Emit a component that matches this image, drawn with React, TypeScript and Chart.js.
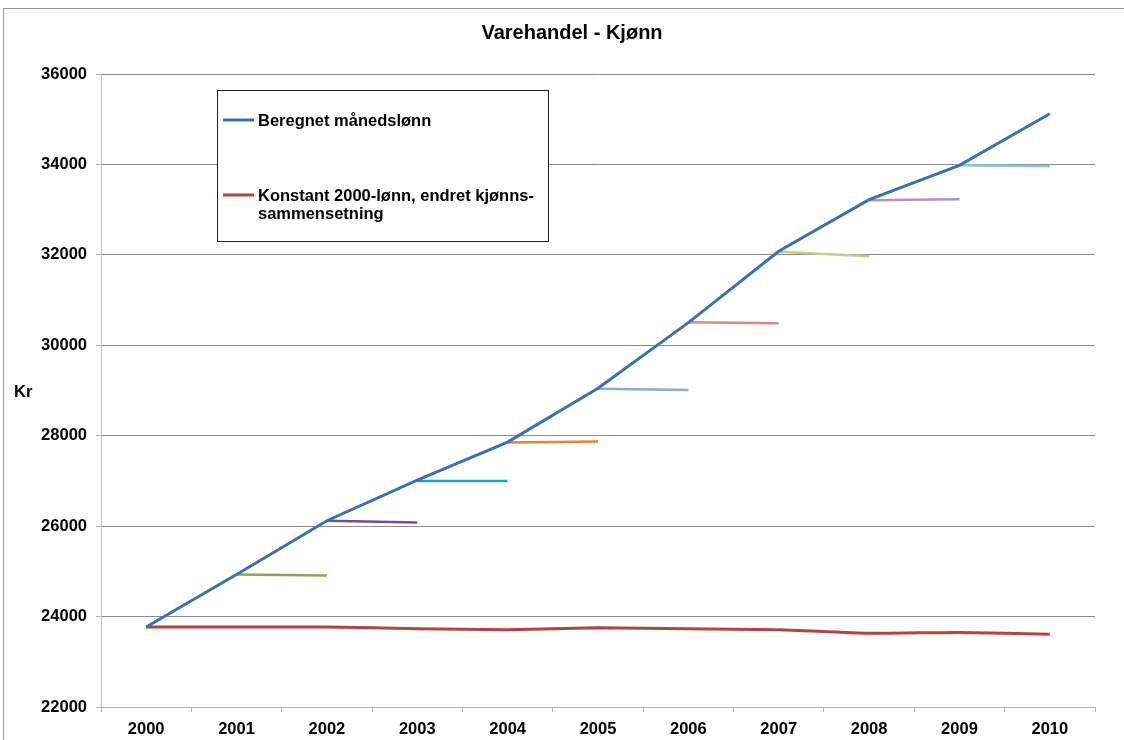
import React, { useEffect, useRef } from "react";
import { Chart, registerables } from "chart.js";

Chart.register(...registerables);

const years = ["2000", "2001", "2002", "2003", "2004", "2005", "2006", "2007", "2008", "2009", "2010"];
const beregnet = [23770, 24930, 26120, 27020, 27860, 29050, 30500, 32080, 33220, 33980, 35120];
const konstant = [23770, 23770, 23770, 23730, 23710, 23750, 23730, 23710, 23630, 23650, 23610];
// yearly segments: start at year i (index), end at year i+1
const segStartIndex = [1, 2, 3, 4, 5, 6, 7, 8, 9];
const segStart = [24930, 26120, 27000, 27850, 29040, 30510, 32070, 33210, 33980];
const segEnd = [24910, 26080, 27000, 27870, 29010, 30490, 31970, 33230, 33960];
const segColors = ["#8aa64b", "#6c5290", "#3d97ae", "#e0843b", "#8eaad3", "#d38d8c", "#b9d08f", "#a996c1", "#8cc6d9"];

const seriesNames = ["Beregnet månedslønn", "Konstant 2000-lønn, endret kjønns-"];
const seriesNames2 = ["", "sammensetning"];
const seriesColors = ["#3f6fad", "#b04545"];
const titleText = "Varehandel - Kjønn";
const yTitle = "Kr";
const yMin = 22000;
const yMax = 36000;
const yStep = 2000;

const FONT = '"Liberation Sans", Arial, Helvetica, sans-serif';

const decorPlugin = {
  id: "decor",
  afterDraw(chart: any) {
    const ctx = chart.ctx;
    ctx.save();
    // outer border
    ctx.strokeStyle = "#9a9a9a";
    ctx.lineWidth = 1;
    ctx.strokeRect(3.5, 8.5, 1140, 760);
    // title
    ctx.fillStyle = "#000";
    ctx.font = `bold 20px ${FONT}`;
    ctx.textAlign = "center";
    ctx.textBaseline = "middle";
    ctx.fillText(titleText, 572, 33);
    // y title
    ctx.font = `bold 16.5px ${FONT}`;
    ctx.textAlign = "left";
    ctx.fillText(yTitle, 14, 392);
    // legend box
    ctx.fillStyle = "#fff";
    ctx.fillRect(217.5, 90.5, 331, 151);
    ctx.strokeStyle = "#222";
    ctx.strokeRect(217.5, 90.5, 331, 151);
    const rows = [120, 195];
    for (let i = 0; i < 2; i++) {
      ctx.strokeStyle = seriesColors[i];
      ctx.lineWidth = 3;
      ctx.beginPath();
      ctx.moveTo(223, rows[i]);
      ctx.lineTo(254, rows[i]);
      ctx.stroke();
      ctx.fillStyle = "#000";
      ctx.font = `bold 16.5px ${FONT}`;
      ctx.textAlign = "left";
      ctx.textBaseline = "middle";
      ctx.fillText(seriesNames[i], 258, rows[i] + 1);
      if (seriesNames2[i]) ctx.fillText(seriesNames2[i], 258, rows[i] + 19);
    }
    ctx.restore();
  },
};

export default function App() {
  const ref = useRef<HTMLCanvasElement>(null);
  useEffect(() => {
    if (!ref.current) return;
    const segDatasets = segStart.map((s, k) => {
      const data: (number | null)[] = years.map(() => null);
      const i = segStartIndex[k];
      data[i] = s;
      data[i + 1] = segEnd[k];
      return {
        label: "seg" + k,
        data,
        borderColor: segColors[k],
        backgroundColor: segColors[k],
        borderWidth: 2.5,
        pointRadius: 0,
        spanGaps: false,
        tension: 0,
        order: 3,
      };
    });
    const chart = new Chart(ref.current, {
      type: "line",
      data: {
        labels: years,
        datasets: [
          {
            label: seriesNames[0],
            data: beregnet,
            borderColor: seriesColors[0],
            backgroundColor: seriesColors[0],
            borderWidth: 3,
            pointRadius: 0,
            tension: 0,
            order: 1,
          },
          {
            label: seriesNames[1] + seriesNames2[1],
            data: konstant,
            borderColor: seriesColors[1],
            backgroundColor: seriesColors[1],
            borderWidth: 3,
            pointRadius: 0,
            tension: 0.2,
            order: 2,
          },
          ...segDatasets,
        ],
      },
      options: {
        animation: false,
        responsive: false,
        layout: { padding: { left: 0, top: 74, right: 29, bottom: 0 } },
        plugins: {
          legend: { display: false },
          title: { display: false },
          tooltip: { enabled: false },
        },
        scales: {
          x: {
            offset: true,
            grid: {
              offset: true,
              drawOnChartArea: false,
              drawTicks: true,
              tickLength: 5,
              color: "#b0b0b0",
            },
            border: { color: "#b0b0b0", width: 1 },
            ticks: {
              color: "#000",
              font: { family: FONT, size: 16.5, weight: "bold" },
              padding: 8,
              maxRotation: 0,
            },
            afterFit: (s: any) => {
              s.height = 33;
            },
          },
          y: {
            min: yMin,
            max: yMax,
            ticks: {
              stepSize: yStep,
              color: "#000",
              font: { family: FONT, size: 16.5, weight: "bold" },
              padding: 9,
              callback: (v: any) => String(v),
            },
            grid: {
              color: "#8c8c8c",
              tickLength: 5,
              tickColor: "#b0b0b0",
            },
            border: { color: "#c0c0c0", width: 1 },
            afterFit: (s: any) => {
              s.width = 101;
            },
          },
        },
      },
      plugins: [decorPlugin],
    });
    return () => chart.destroy();
  }, []);
  return (
    <div style={{ position: "fixed", left: 0, top: 0, width: 1124, height: 740, background: "#fff" }}>
      <canvas ref={ref} width={1124} height={740} style={{ display: "block", width: 1124, height: 740 }} />
    </div>
  );
}
